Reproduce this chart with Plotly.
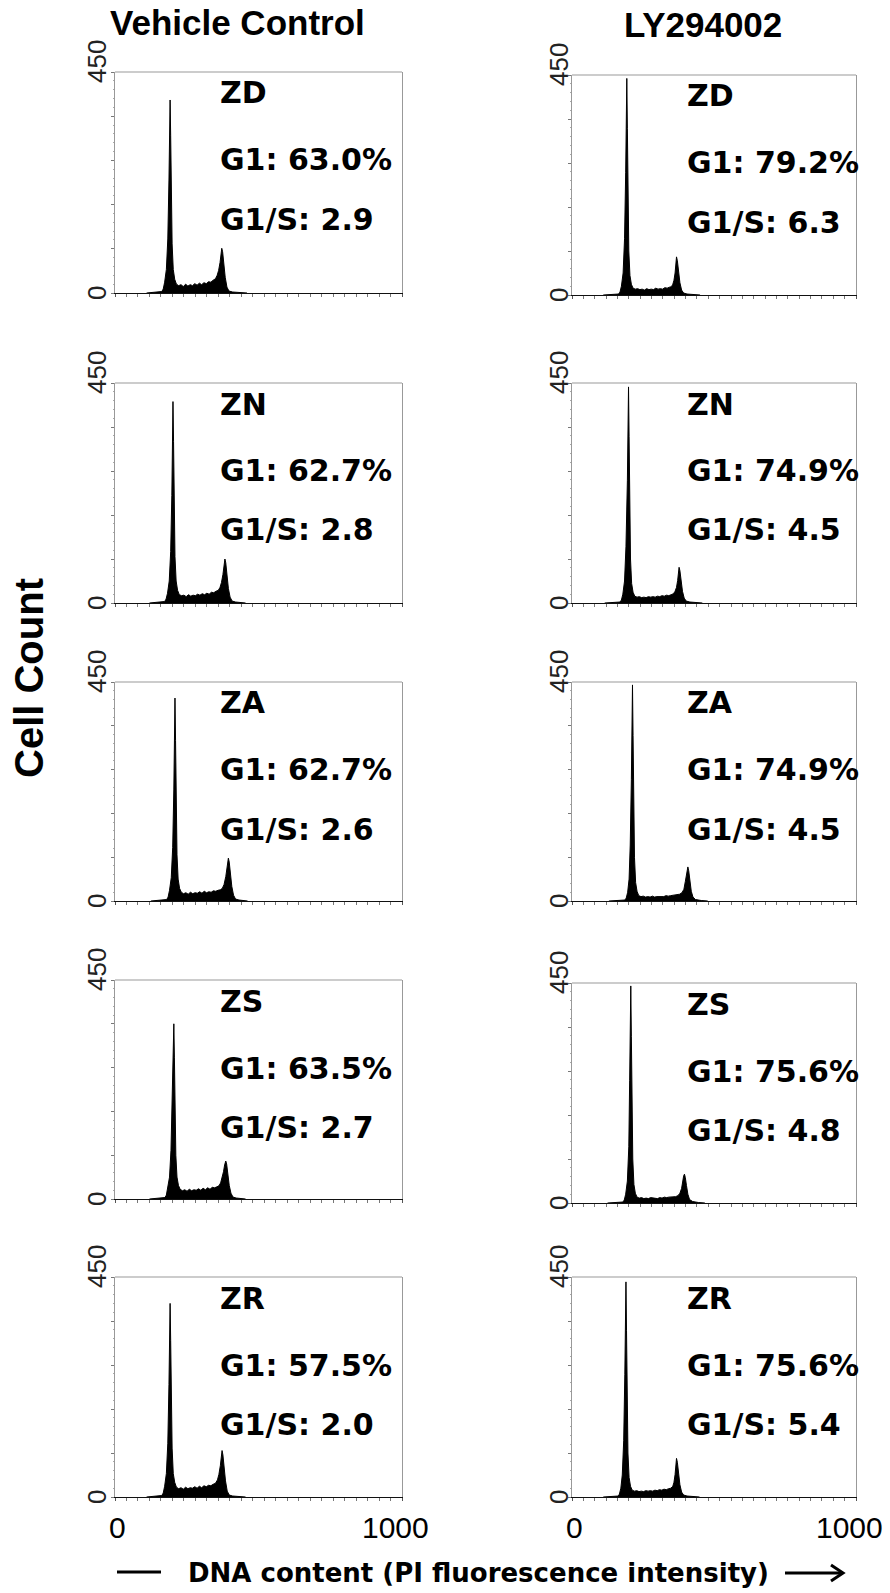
import plotly.graph_objects as go

W, H = 890, 1593

# ---- histogram outlines: PI channel vs cell count -------------------------
VC_ZD_CH = [110, 140, 155, 163, 168, 173, 179, 184, 188, 190, 192, 194, 196, 199, 203, 208, 214, 222, 230, 238, 246, 254, 262, 270, 278, 286, 294, 302, 310, 318, 326, 334, 342, 350, 356, 361, 366, 370, 372, 375, 379, 384, 390, 397, 410, 430, 460]
VC_ZD_N = [0, 1, 2, 3, 8, 22, 48, 110, 230, 330, 393, 320, 210, 100, 48, 28, 18, 15, 17, 13, 18, 14, 17, 15, 19, 16, 20, 17, 21, 19, 23, 22, 26, 29, 36, 46, 62, 82, 91, 84, 60, 32, 12, 4, 2, 1, 0]

LY_ZD_CH = [110, 140, 155, 164, 169, 174, 180, 185, 189, 191, 193, 195, 197, 200, 204, 209, 215, 223, 231, 239, 247, 255, 263, 271, 279, 287, 295, 303, 311, 319, 327, 335, 343, 350, 355, 359, 363, 366, 368, 371, 375, 380, 386, 393, 405, 425, 451]
LY_ZD_N = [0, 1, 1, 2, 6, 18, 45, 115, 250, 370, 443, 340, 200, 90, 40, 22, 14, 12, 13, 11, 12, 10, 13, 11, 12, 11, 14, 12, 13, 12, 15, 14, 16, 17, 22, 30, 45, 68, 78, 70, 48, 25, 10, 4, 2, 1, 0]

VC_ZN_CH = [120, 150, 165, 173, 178, 183, 189, 194, 198, 200, 202, 204, 206, 209, 213, 218, 224, 232, 240, 248, 256, 264, 272, 280, 288, 296, 304, 312, 320, 328, 336, 344, 352, 360, 366, 371, 376, 380, 383, 386, 390, 395, 401, 408, 420, 435, 455]
VC_ZN_N = [0, 1, 2, 3, 8, 20, 45, 105, 220, 320, 412, 330, 200, 95, 45, 26, 17, 15, 16, 13, 17, 14, 16, 15, 18, 16, 19, 17, 20, 18, 22, 21, 24, 26, 32, 42, 58, 80, 90, 82, 58, 30, 12, 4, 2, 1, 0]

LY_ZN_CH = [115, 145, 160, 169, 174, 179, 185, 190, 195, 197, 199, 201, 203, 206, 210, 215, 221, 229, 237, 245, 253, 261, 269, 277, 285, 293, 301, 309, 317, 325, 333, 341, 349, 357, 363, 368, 372, 375, 377, 380, 384, 389, 395, 402, 415, 435, 459]
LY_ZN_N = [0, 1, 1, 2, 6, 18, 45, 115, 250, 370, 442, 340, 200, 90, 40, 22, 14, 12, 13, 11, 12, 11, 13, 12, 13, 12, 14, 13, 15, 14, 16, 15, 17, 19, 24, 32, 46, 64, 73, 66, 45, 24, 10, 4, 2, 1, 0]

VC_ZA_CH = [125, 155, 172, 180, 185, 190, 196, 201, 205, 207, 209, 211, 213, 216, 220, 225, 231, 239, 247, 255, 263, 271, 279, 287, 295, 303, 311, 319, 327, 335, 343, 351, 359, 367, 374, 380, 386, 391, 395, 398, 402, 407, 413, 420, 432, 445, 462]
VC_ZA_N = [0, 1, 2, 3, 8, 22, 48, 110, 230, 330, 417, 330, 205, 95, 45, 26, 18, 15, 17, 14, 18, 15, 17, 16, 19, 16, 20, 17, 19, 18, 21, 20, 22, 23, 26, 34, 50, 72, 88, 80, 57, 30, 12, 4, 2, 1, 0]

LY_ZA_CH = [130, 160, 178, 186, 191, 196, 201, 205, 209, 211, 213, 215, 217, 220, 224, 229, 235, 243, 251, 259, 267, 275, 283, 291, 299, 307, 315, 323, 331, 339, 347, 355, 363, 371, 379, 387, 394, 399, 404, 408, 411, 415, 420, 426, 435, 455, 478]
LY_ZA_N = [0, 1, 1, 2, 6, 18, 45, 115, 250, 370, 444, 340, 200, 90, 38, 20, 11, 9, 10, 8, 9, 8, 10, 8, 9, 9, 10, 9, 11, 10, 11, 12, 12, 13, 14, 17, 24, 40, 60, 70, 62, 42, 20, 8, 3, 1, 0]

VC_ZS_CH = [120, 150, 166, 174, 179, 184, 190, 195, 199, 202, 205, 207, 209, 212, 216, 221, 227, 235, 243, 251, 259, 267, 275, 283, 291, 299, 307, 315, 323, 331, 339, 347, 355, 362, 368, 373, 378, 382, 386, 389, 393, 398, 404, 411, 422, 437, 455]
VC_ZS_N = [0, 1, 2, 3, 8, 22, 45, 100, 200, 300, 360, 290, 185, 90, 45, 28, 20, 17, 19, 16, 20, 17, 19, 18, 21, 18, 22, 19, 23, 20, 24, 23, 25, 27, 33, 42, 56, 70, 78, 72, 52, 28, 12, 4, 2, 1, 0]

LY_ZS_CH = [125, 155, 171, 179, 184, 189, 195, 200, 203, 205, 207, 209, 211, 214, 218, 223, 229, 237, 245, 253, 261, 269, 277, 285, 293, 301, 309, 317, 325, 333, 341, 349, 357, 365, 373, 380, 386, 390, 393, 396, 399, 403, 408, 414, 425, 445, 468]
LY_ZS_N = [0, 1, 1, 2, 6, 18, 45, 115, 250, 370, 444, 340, 200, 90, 38, 20, 12, 10, 11, 9, 10, 9, 11, 10, 10, 9, 11, 10, 12, 11, 12, 12, 13, 13, 15, 20, 30, 46, 55, 59, 52, 36, 18, 7, 3, 1, 0]

VC_ZR_CH = [110, 140, 155, 163, 168, 173, 179, 184, 188, 190, 192, 194, 196, 199, 203, 208, 214, 222, 230, 238, 246, 254, 262, 270, 278, 286, 294, 302, 310, 318, 326, 334, 342, 350, 357, 362, 367, 371, 373, 376, 380, 385, 391, 398, 410, 430, 455]
VC_ZR_N = [0, 1, 2, 3, 8, 22, 48, 110, 230, 330, 396, 320, 210, 100, 48, 30, 20, 17, 19, 16, 20, 17, 19, 18, 21, 18, 22, 19, 23, 21, 24, 23, 26, 28, 35, 46, 64, 85, 95, 86, 62, 33, 12, 4, 2, 1, 0]

LY_ZR_CH = [110, 140, 155, 163, 167, 172, 177, 182, 186, 188, 190, 192, 194, 197, 201, 206, 212, 220, 228, 236, 244, 252, 260, 268, 276, 284, 292, 300, 308, 316, 324, 332, 340, 348, 355, 359, 363, 366, 368, 371, 375, 380, 386, 393, 405, 425, 449]
LY_ZR_N = [0, 1, 1, 2, 6, 18, 45, 115, 250, 370, 440, 340, 200, 90, 40, 22, 14, 12, 13, 11, 12, 11, 13, 12, 13, 12, 14, 13, 15, 14, 16, 15, 17, 18, 22, 30, 46, 68, 79, 71, 48, 25, 10, 4, 2, 1, 0]

# ---- labels ----------------------------------------------------------------
COLUMN_TITLES = ["Vehicle Control", "LY294002"]
SAMPLES = ["ZD", "ZN", "ZA", "ZS", "ZR"]
VC_G1 = ["63.0%", "62.7%", "62.7%", "63.5%", "57.5%"]
VC_G1S = ["2.9", "2.8", "2.6", "2.7", "2.0"]
LY_G1 = ["79.2%", "74.9%", "74.9%", "75.6%", "75.6%"]
LY_G1S = ["6.3", "4.5", "4.5", "4.8", "5.4"]
X_RANGE = [0, 1000]
Y_RANGE = [0, 450]
X_LABEL = "DNA content (PI fluorescence intensity)"
Y_LABEL = "Cell Count"

HISTS = [
    [(VC_ZD_CH, VC_ZD_N), (VC_ZN_CH, VC_ZN_N), (VC_ZA_CH, VC_ZA_N), (VC_ZS_CH, VC_ZS_N), (VC_ZR_CH, VC_ZR_N)],
    [(LY_ZD_CH, LY_ZD_N), (LY_ZN_CH, LY_ZN_N), (LY_ZA_CH, LY_ZA_N), (LY_ZS_CH, LY_ZS_N), (LY_ZR_CH, LY_ZR_N)],
]
G1_TEXT = [VC_G1, LY_G1]
G1S_TEXT = [VC_G1S, LY_G1S]

# ---- panel geometry (pixels) ------------------------------------------------
COL_X = [(115, 402), (572, 856)]
COL_TOP = [[72, 383, 682, 980, 1277], [75, 383, 682, 983, 1277]]
COL_BOT = [[293, 603, 901, 1199, 1497], [295, 603, 901, 1203, 1497]]
TEXT_DX = [103, 113]
YLAB_DX = [-18, -13]


def px(x, y):
    return x / W, 1 - y / H


BOLD = "DejaVu Sans, Arial, sans-serif"
ARIAL = "Liberation Sans, Arial, sans-serif"
NARROW = "Liberation Sans Narrow, Arial Narrow, Liberation Sans, sans-serif"

fig = go.Figure()
annotations = []
shapes = []

idx = 0
for c in range(2):
    x0, x1 = COL_X[c]
    for r in range(5):
        idx += 1
        xa = "x" if idx == 1 else f"x{idx}"
        ya = "y" if idx == 1 else f"y{idx}"
        ch, n = HISTS[c][r]
        fig.add_trace(go.Scatter(
            x=ch, y=n, xaxis=xa, yaxis=ya, mode="lines", fill="tozeroy",
            line=dict(color="black", width=1), fillcolor="black",
            hoverinfo="skip", showlegend=False,
        ))
        top, bot = COL_TOP[c][r], COL_BOT[c][r]
        fig.layout[("xaxis" if idx == 1 else f"xaxis{idx}")] = dict(
            domain=[x0 / W, x1 / W], range=X_RANGE, anchor=ya,
            showline=True, linecolor="#111", linewidth=1,
            tickvals=X_RANGE, ticks="outside", ticklen=3, tickcolor="#555",
            showticklabels=False, showgrid=False, zeroline=False,
            minor=dict(dtick=40, tick0=0, ticks="outside", ticklen=3,
                       tickcolor="#777", showgrid=False),
            fixedrange=True,
        )
        fig.layout[("yaxis" if idx == 1 else f"yaxis{idx}")] = dict(
            domain=[1 - bot / H, 1 - top / H], range=Y_RANGE, anchor=xa,
            showline=True, linecolor="#999", linewidth=1, mirror=True,
            tickvals=[0, 90, 180, 270, 360, 450], ticks="outside", ticklen=3,
            tickcolor="#777", showticklabels=False, showgrid=False,
            zeroline=False,
            minor=dict(dtick=18, tick0=0, ticks="outside", ticklen=1.5,
                       tickcolor="#aaa", showgrid=False),
            fixedrange=True,
        )
        # top edge of the frame
        shapes.append(dict(type="line", xref="paper", yref="paper",
                           x0=x0 / W, x1=x1 / W, y0=1 - top / H, y1=1 - top / H,
                           line=dict(color="#999", width=1)))

        # sample name and cell-cycle figures
        tx = x0 + TEXT_DX[c]
        for dy, txt in [(21, SAMPLES[r]),
                        (88, "G1: " + G1_TEXT[c][r]),
                        (147, "G1/S: " + G1S_TEXT[c][r])]:
            ax_, ay_ = px(tx, top + dy)
            annotations.append(dict(
                x=ax_, y=ay_, xref="paper", yref="paper", text=f"<b>{txt}</b>",
                showarrow=False, xanchor="left", yanchor="middle",
                font=dict(family=BOLD, size=30, color="black"),
            ))

        # y tick labels 450 / 0
        lx = x0 + YLAB_DX[c]
        for val, yy in [(Y_RANGE[1], top - 10), (Y_RANGE[0], bot)]:
            ax_, ay_ = px(lx, yy)
            annotations.append(dict(
                x=ax_, y=ay_, xref="paper", yref="paper", text=str(val),
                showarrow=False, xanchor="center", yanchor="middle",
                textangle=-90, font=dict(family=NARROW, size=26, color="#222"),
            ))

        # x tick labels on the bottom row
        if r == 4:
            for val, xx in [(X_RANGE[0], x0 + 2), (X_RANGE[1], x1 - 7)]:
                ax_, ay_ = px(xx, bot + 30)
                annotations.append(dict(
                    x=ax_, y=ay_, xref="paper", yref="paper", text=str(val),
                    showarrow=False, xanchor="center", yanchor="middle",
                    font=dict(family=ARIAL, size=30, color="black"),
                ))

# column titles
for c, (cx, cy) in enumerate([(237, 22), (703, 24)]):
    ax_, ay_ = px(cx, cy)
    annotations.append(dict(
        x=ax_, y=ay_, xref="paper", yref="paper", text=f"<b>{COLUMN_TITLES[c]}</b>",
        showarrow=False, xanchor="center", yanchor="middle",
        font=dict(family=ARIAL, size=35, color="black"),
    ))

# shared y-axis title
ax_, ay_ = px(29, 678)
annotations.append(dict(
    x=ax_, y=ay_, xref="paper", yref="paper", text=f"<b>{Y_LABEL}</b>",
    showarrow=False, xanchor="center", yanchor="middle", textangle=-90,
    font=dict(family=ARIAL, size=40, color="black"),
))

# shared x-axis title with leading dash and trailing arrow
ax_, ay_ = px(478, 1573)
annotations.append(dict(
    x=ax_, y=ay_, xref="paper", yref="paper", text=f"<b>{X_LABEL}</b>",
    showarrow=False, xanchor="center", yanchor="middle",
    font=dict(family=BOLD, size=26, color="black"),
))
lx0, ly0 = px(117, 1572)
lx1, _ = px(161, 1572)
shapes.append(dict(type="line", xref="paper", yref="paper", x0=lx0, x1=lx1,
                   y0=ly0, y1=ly0, line=dict(color="black", width=3)))
a0, ay0 = px(785, 1573)
a1, _ = px(842, 1573)
shapes.append(dict(type="line", xref="paper", yref="paper", x0=a0, x1=a1,
                   y0=ay0, y1=ay0, line=dict(color="black", width=3)))
h0x, h0y = px(831, 1565)
h1x, h1y = px(843, 1573)
h2x, h2y = px(831, 1581)
shapes.append(dict(type="path", xref="paper", yref="paper",
                   path=f"M {h0x} {h0y} L {h1x} {h1y} L {h2x} {h2y}",
                   line=dict(color="black", width=3)))

fig.update_layout(
    width=W, height=H, margin=dict(l=0, r=0, t=0, b=0),
    paper_bgcolor="white", plot_bgcolor="white",
    annotations=annotations, shapes=shapes, showlegend=False,
)

fig.write_html("out.html", config={"displayModeBar": False})
